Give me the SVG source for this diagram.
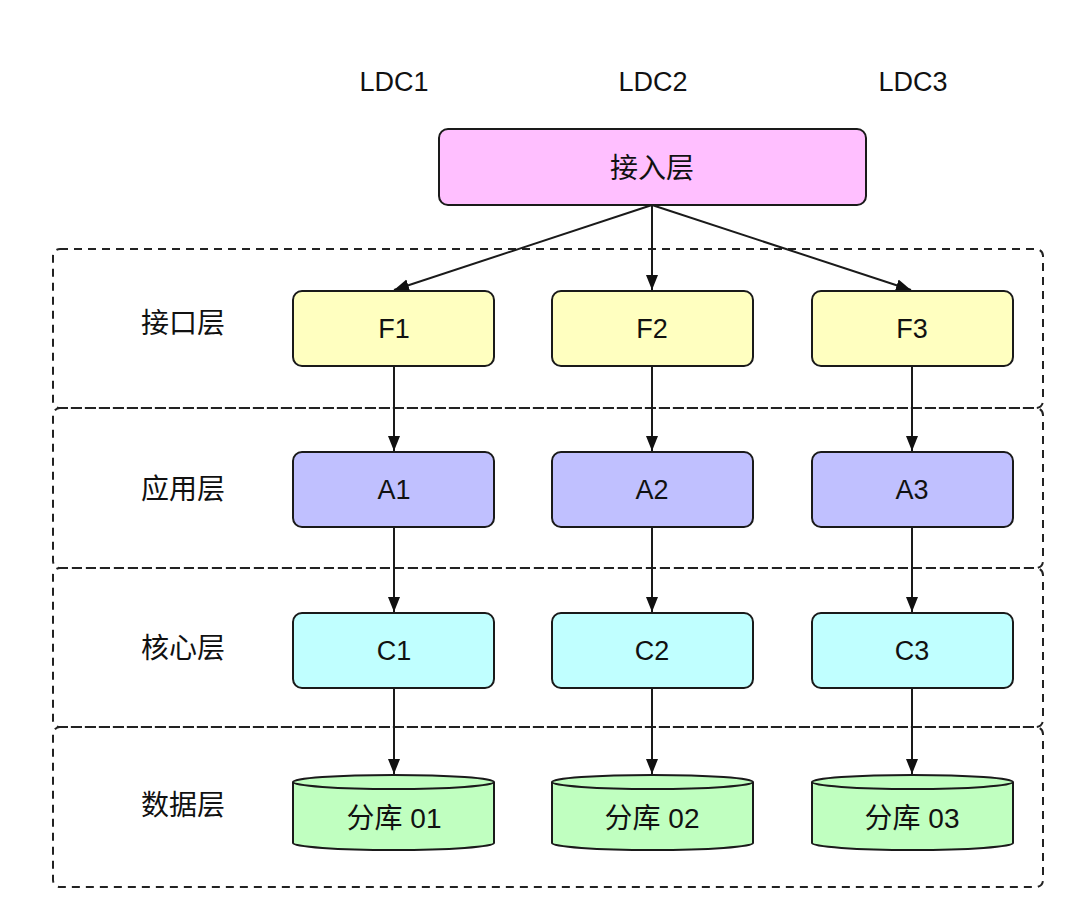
<svg xmlns="http://www.w3.org/2000/svg" width="1080" height="920" viewBox="0 0 1080 920">
<style>
text{font-family:"Liberation Sans","Noto Sans CJK SC",sans-serif;font-size:27px;fill:#111;text-anchor:middle;dominant-baseline:central}
.cj{font-size:28px}
.band{fill:none;stroke:#222;stroke-width:2;stroke-dasharray:8 6}
.box{stroke:#1a1a1a;stroke-width:2}
.f{fill:#ffffc0}.a{fill:#c0c0ff}.c{fill:#c0ffff}.d{fill:#c0ffc0}.p{fill:#ffbfff}
.edge{stroke:#1a1a1a;stroke-width:2;fill:none;marker-end:url(#arr)}
</style>
<defs>
<marker id="arr" viewBox="0 0 10 10" refX="10" refY="5" markerWidth="15" markerHeight="15" orient="auto" markerUnits="userSpaceOnUse"><path d="M0,1 L10,5 L0,9 Z" fill="#111"/></marker>
</defs>
<rect width="1080" height="920" fill="#fff"/>
<g id="bands">
<rect class="band" x="53" y="249" width="990" height="159" rx="7"/>
<rect class="band" x="53" y="408" width="990" height="160" rx="7"/>
<rect class="band" x="53" y="568" width="990" height="159" rx="7"/>
<rect class="band" x="53" y="727" width="990" height="160" rx="7"/>
</g>
<g id="labels">
<text x="394" y="82">LDC1</text>
<text x="653" y="82">LDC2</text>
<text x="913" y="82">LDC3</text>
<text class="cj" x="183" y="323">接口层</text>
<text class="cj" x="183" y="489">应用层</text>
<text class="cj" x="183" y="648">核心层</text>
<text class="cj" x="183" y="805">数据层</text>
</g>
<g id="connectors">
<path class="edge" d="M652,205 L394,290"/>
<path class="edge" d="M652,205 L652,290"/>
<path class="edge" d="M652,205 L911,290"/>
<path class="edge" d="M394,366 L394,451"/>
<path class="edge" d="M652,366 L652,451"/>
<path class="edge" d="M912,366 L912,451"/>
<path class="edge" d="M394,527 L394,612"/>
<path class="edge" d="M652,527 L652,612"/>
<path class="edge" d="M912,527 L912,612"/>
<path class="edge" d="M394,688 L394,774"/>
<path class="edge" d="M652,688 L652,774"/>
<path class="edge" d="M912,688 L912,774"/>
</g>
<g id="access"><rect class="box p" x="439" y="129" width="427" height="76" rx="9"/><text class="cj" x="652" y="168">接入层</text></g>
<g id="F1"><rect class="box f" x="293" y="291" width="201" height="75" rx="9"/><text x="394" y="329">F1</text></g>
<g id="F2"><rect class="box f" x="552" y="291" width="201" height="75" rx="9"/><text x="652" y="329">F2</text></g>
<g id="F3"><rect class="box f" x="812" y="291" width="201" height="75" rx="9"/><text x="912" y="329">F3</text></g>
<g id="A1"><rect class="box a" x="293" y="452" width="201" height="75" rx="9"/><text x="394" y="490">A1</text></g>
<g id="A2"><rect class="box a" x="552" y="452" width="201" height="75" rx="9"/><text x="652" y="490">A2</text></g>
<g id="A3"><rect class="box a" x="812" y="452" width="201" height="75" rx="9"/><text x="912" y="490">A3</text></g>
<g id="C1"><rect class="box c" x="293" y="613" width="201" height="75" rx="9"/><text x="394" y="651">C1</text></g>
<g id="C2"><rect class="box c" x="552" y="613" width="201" height="75" rx="9"/><text x="652" y="651">C2</text></g>
<g id="C3"><rect class="box c" x="812" y="613" width="201" height="75" rx="9"/><text x="912" y="651">C3</text></g>
<g id="D1"><path class="box d" d="M293,782 A100.5,7 0 0 1 494,782 L494,843 A100.5,7 0 0 1 293,843 Z"/><path class="box" fill="none" d="M293,782 A100.5,7 0 0 0 494,782"/><text class="cj" x="394" y="818">分库 01</text></g>
<g id="D2"><path class="box d" d="M552,782 A100.5,7 0 0 1 753,782 L753,843 A100.5,7 0 0 1 552,843 Z"/><path class="box" fill="none" d="M552,782 A100.5,7 0 0 0 753,782"/><text class="cj" x="652" y="818">分库 02</text></g>
<g id="D3"><path class="box d" d="M812,782 A100.5,7 0 0 1 1013,782 L1013,843 A100.5,7 0 0 1 812,843 Z"/><path class="box" fill="none" d="M812,782 A100.5,7 0 0 0 1013,782"/><text class="cj" x="912" y="818">分库 03</text></g>
</svg>
